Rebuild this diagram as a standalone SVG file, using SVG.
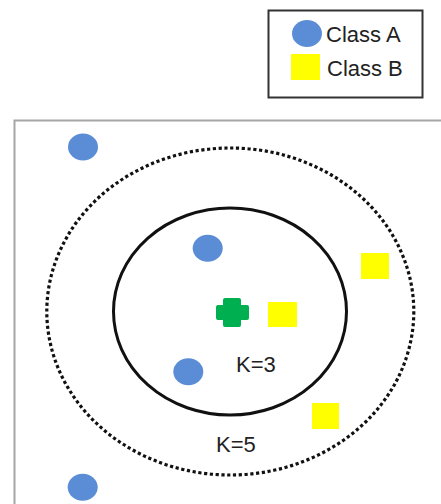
<svg xmlns="http://www.w3.org/2000/svg" width="441" height="504" viewBox="0 0 441 504">
<style>
.a{fill:#5a8dd5}
.b{fill:#ffff00}
.t{font-family:"Liberation Sans",Arial,sans-serif;font-size:22px;fill:#222}
</style>
<rect width="441" height="504" fill="#fff"/>
<g id="frame">
<path d="M14.5,504 V120.5 H441" fill="none" stroke="#a6a6a6" stroke-width="2"/>
</g>
<g id="legend">
<rect x="268.5" y="10.5" width="154" height="87" fill="#fff" stroke="#333" stroke-width="2"/>
<ellipse cx="307" cy="33.5" rx="15" ry="13.5" class="a"/>
<text x="326" y="42" class="t">Class A</text>
<rect x="291" y="54" width="29" height="26" class="b"/>
<text x="327" y="76" class="t">Class B</text>
</g>
<g id="connectors">
<ellipse id="k5" cx="230.3" cy="311.5" rx="183.5" ry="163.5" fill="none" stroke="#111" stroke-width="3.2" stroke-dasharray="3.2 2.6"/>
<ellipse id="k3" cx="230" cy="311.5" rx="116.5" ry="103.5" fill="none" stroke="#111" stroke-width="3"/>
</g>
<g id="pointA1"><ellipse cx="83" cy="147" rx="15" ry="13.5" class="a"/></g>
<g id="pointA2"><ellipse cx="207.7" cy="248.3" rx="15" ry="13.5" class="a"/></g>
<g id="pointA3"><ellipse cx="188.3" cy="371.7" rx="15" ry="13.5" class="a"/></g>
<g id="pointA4"><ellipse cx="82.7" cy="487.3" rx="15" ry="13.5" class="a"/></g>
<g id="pointB1"><rect x="268" y="302" width="29" height="25" class="b"/></g>
<g id="pointB2"><rect x="361" y="253" width="28" height="26" class="b"/></g>
<g id="pointB3"><rect x="312" y="403" width="27" height="26" class="b"/></g>
<g id="query">
<path d="M225,298 H239 Q241,298 241,300 V305 H247 Q249,305 249,307 V318 Q249,320 247,320 H241 V325 Q241,327 239,327 H225 Q223,327 223,325 V320 H218 Q216,320 216,318 V307 Q216,305 218,305 H223 V300 Q223,298 225,298 Z" fill="#00b050"/>
</g>
<g id="labels">
<text x="236" y="372" class="t">K=3</text>
<text x="216" y="452" class="t">K=5</text>
</g>
</svg>
